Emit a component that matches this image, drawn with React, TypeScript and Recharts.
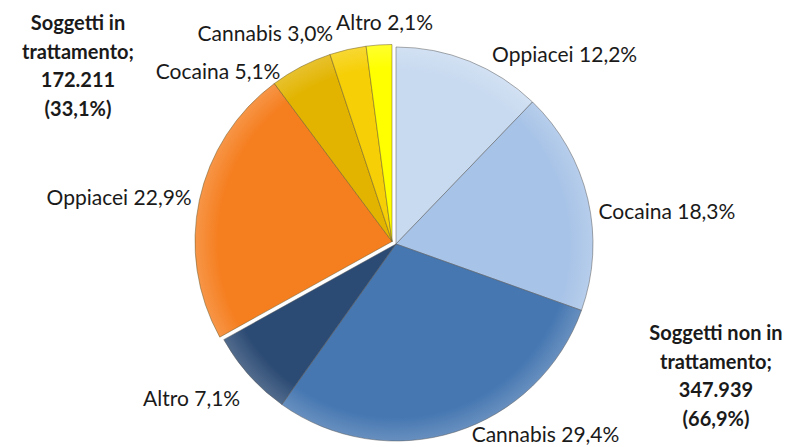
import React from 'react';
import { PieChart, Pie, Cell } from 'recharts';

const categories = ['Oppiacei', 'Cocaina', 'Cannabis', 'Altro'];
const notTreatedValues = [12.2, 18.3, 29.4, 7.1];
const treatedValues = [22.9, 5.1, 3.0, 2.1];
const groupNames = ['Soggetti in trattamento;', 'Soggetti non in trattamento;'];
const groupCounts = ['172.211', '347.939'];
const groupShares = ['33,1%', '66,9%'];

// layout: small label nudges (px), imitating the spreadsheet's "best fit" label placement
const blueLabelNudge = [[18, 3], [-1, 14], [13, -10], [0, 14]];
const orangeLabelNudge = [[4, -1], [-15, 14], [-12, -5], [7, -1]];

const blueColors = ['#c8daf0', '#a7c3e7', '#4677b1', '#2c4b74'];
const orangeColors = ['#f57e1f', '#e2b400', '#f6cf06', '#ffff00'];

const W = 795;
const H = 447;
const FONT = 'Lato, "Open Sans", sans-serif';

const notTreated = categories.map((c, i) => ({ name: c, value: notTreatedValues[i] }));
const treated = categories.map((c, i) => ({ name: c, value: treatedValues[i] }));
const total = [...notTreatedValues, ...treatedValues].reduce((a, b) => a + b, 0);
const splitAngle = 90 - (360 * notTreatedValues.reduce((a, b) => a + b, 0)) / total;

const RAD = Math.PI / 180;

const makeLabel = (nudges: number[][]) => (props: any) => {
  const { cx, cy, midAngle, outerRadius, name, value, index } = props;
  const s = Math.sin(-midAngle * RAD);
  const c = Math.cos(-midAngle * RAD);
  const nearVertical = Math.abs(c) < 0.15;
  const r = outerRadius + (nearVertical ? 22 : 12);
  const n = nudges[index] || [0, 0];
  const x = cx + r * c + n[0];
  const y = cy + r * s + n[1];
  const anchor = nearVertical ? 'middle' : c > 0 ? 'start' : 'end';
  return (
    <text
      x={x}
      y={y}
      textAnchor={anchor}
      dominantBaseline="central"
      fill="#1a1a1a"
      fontSize={21}
      fontFamily={FONT}
    >
      {`${name} ${value.toFixed(1).replace('.', ',')}%`}
    </text>
  );
};

const blueCx = 396;
const blueCy = 244;
const orangeCx = 392;
const orangeCy = 241.5;
const R = 197;

const groupLabel = (i: number, left: number, top: number) => {
  const words = groupNames[i].split(' ');
  const lastWord = words.pop();
  return (
    <div
      style={{
        position: 'absolute',
        left,
        top,
        width: 170,
        textAlign: 'center',
        fontFamily: FONT,
        fontWeight: 700,
        fontSize: 20,
        lineHeight: '28.5px',
        color: '#1a1a1a',
      }}
    >
      <div>{words.join(' ')}</div>
      <div>{lastWord}</div>
      <div>{groupCounts[i]}</div>
      <div>({groupShares[i]})</div>
    </div>
  );
};

export default function App() {
  return (
    <div style={{ position: 'absolute', left: 0, top: 0, width: W, height: H, background: '#fff', overflow: 'hidden' }}>
      <PieChart width={W} height={H} margin={{ top: 0, right: 0, bottom: 0, left: 0 }}>
        <defs>
          {blueColors.map((col, i) => (
            <radialGradient key={'b' + i} id={'gb' + i} gradientUnits="userSpaceOnUse" cx={blueCx} cy={blueCy} r={R}>
              <stop offset="0%" stopColor={col} stopOpacity={1} />
              <stop offset="88%" stopColor={col} stopOpacity={1} />
              <stop offset="100%" stopColor={col} stopOpacity={0.82} />
            </radialGradient>
          ))}
          {orangeColors.map((col, i) => (
            <radialGradient key={'o' + i} id={'go' + i} gradientUnits="userSpaceOnUse" cx={orangeCx} cy={orangeCy} r={R}>
              <stop offset="0%" stopColor={col} stopOpacity={1} />
              <stop offset="88%" stopColor={col} stopOpacity={1} />
              <stop offset="100%" stopColor={col} stopOpacity={0.82} />
            </radialGradient>
          ))}
        </defs>
        <Pie
          data={notTreated}
          dataKey="value"
          nameKey="name"
          cx={blueCx}
          cy={blueCy}
          outerRadius={R}
          startAngle={90}
          endAngle={splitAngle}
          stroke="#5a5a5a"
          strokeOpacity={0.5}
          strokeWidth={1}
          label={makeLabel(blueLabelNudge)}
          labelLine={false}
          isAnimationActive={false}
        >
          {notTreated.map((d, i) => (
            <Cell key={d.name} fill={`url(#gb${i})`} />
          ))}
        </Pie>
        <Pie
          data={treated}
          dataKey="value"
          nameKey="name"
          cx={orangeCx}
          cy={orangeCy}
          outerRadius={R}
          startAngle={splitAngle}
          endAngle={-270}
          stroke="#6b5a2a"
          strokeOpacity={0.5}
          strokeWidth={1}
          label={makeLabel(orangeLabelNudge)}
          labelLine={false}
          isAnimationActive={false}
        >
          {treated.map((d, i) => (
            <Cell key={d.name} fill={`url(#go${i})`} />
          ))}
        </Pie>
      </PieChart>
      {groupLabel(0, -7, 8)}
      {groupLabel(1, 631, 318)}
    </div>
  );
}
